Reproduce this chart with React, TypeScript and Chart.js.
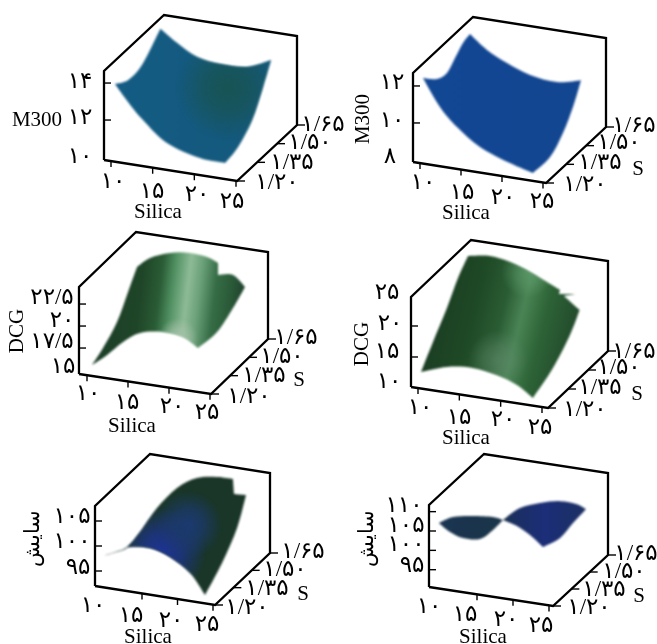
import React, { useEffect, useRef } from "react";
import { Chart, registerables } from "chart.js";

Chart.register(...registerables);

const W = 657;
const H = 644;

const silicaTicks = [10, 15, 20, 25];
const sTicks = [1.2, 1.35, 1.5, 1.65];

// Surface outlines: silica, S, response
const m300ASilica = [10, 10, 10, 10, 10, 12.04, 14.44, 17.17, 20.4, 23.3, 23.2, 23.2, 23.2, 23.2, 20.2, 16.24, 13.36, 11.56];
const m300AS = [1.23, 1.327, 1.417, 1.4925, 1.57, 1.57, 1.57, 1.57, 1.57, 1.57, 1.515, 1.4325, 1.327, 1.23, 1.23, 1.23, 1.23, 1.23];
const m300AZ = [13.81, 13.36, 13.41, 13.88, 14.51, 13.88, 13.29, 13.11, 13.18, 13.76, 12.67, 11.43, 10.68, 10.48, 10.53, 11.06, 12.1, 12.95];

const m300BSilica = [10, 10, 10, 10, 10, 10, 12.07, 14.51, 17.32, 20.6, 23.54, 23.4, 23.4, 23.4, 23.4, 20.6, 16.95, 14.15, 12.07];
const m300BS = [1.2225, 1.327, 1.4025, 1.4625, 1.5225, 1.575, 1.575, 1.575, 1.575, 1.575, 1.575, 1.523, 1.448, 1.351, 1.2225, 1.2225, 1.2225, 1.2225, 1.2225];
const m300BZ = [12.34, 11.58, 11.4, 11.8, 12.21, 12.34, 11.63, 11.09, 10.64, 10.49, 10.8, 9.69, 8.79, 8.14, 8.14, 8.48, 9.1, 9.98, 10.92];

const dcgASilica = [10, 10, 10, 10, 10, 11.59, 14.02, 16.46, 18.54, 19.88, 19.88, 21.71, 23.17, 23, 23, 23, 21.1, 18.66, 15.85, 13.78, 11.83];
const dcgAS = [1.24, 1.326, 1.437, 1.524, 1.595, 1.595, 1.595, 1.595, 1.595, 1.595, 1.595, 1.595, 1.595, 1.511, 1.385, 1.235, 1.24, 1.24, 1.24, 1.24, 1.24];
const dcgAZ = [15.16, 15.88, 17.31, 19.52, 21.37, 22.62, 23.53, 23.87, 23.71, 23.22, 21.86, 22.11, 20.95, 19.7, 18.72, 18.98, 19.91, 20.13, 19.63, 18.31, 16.56];

const dcgBSilica = [10, 10, 10, 10, 10, 12.66, 15.08, 17.5, 19.55, 21.13, 21, 22.94, 21.6, 23.5, 23.3, 23.3, 23.3, 21.6, 19.19, 16.29, 13.14];
const dcgBS = [1.2225, 1.3125, 1.417, 1.5, 1.575, 1.575, 1.575, 1.575, 1.575, 1.575, 1.575, 1.575, 1.575, 1.575, 1.515, 1.3875, 1.2375, 1.2225, 1.2225, 1.2225, 1.2225];
const dcgBZ = [12.31, 15.31, 18.64, 21.79, 23.81, 24.35, 23.87, 22.76, 21.56, 20.6, 19.92, 20.32, 19.72, 17.85, 15.01, 12.29, 10.53, 12.58, 13.69, 14.24, 13.76];

const wearASilica = [9.5, 10, 10, 10, 10, 12.82, 15.63, 18.45, 20.7, 20.85, 22.54, 22.5, 22.5, 22.5, 20.39, 17.58, 14.76, 11.94, 10.96];
const wearAS = [1.2, 1.27, 1.368, 1.474, 1.613, 1.613, 1.613, 1.613, 1.613, 1.613, 1.613, 1.542, 1.419, 1.28, 1.28, 1.28, 1.28, 1.28, 1.28];
const wearAZ = [98.24, 97.54, 96.28, 96.82, 98.42, 103.06, 105.68, 106.52, 106.62, 103.66, 103.82, 98.86, 94.7, 91.52, 95.44, 98.02, 99.18, 98.76, 97.94];

const wearBSilica = [9.7, 10, 10, 10, 11.39, 13.75, 16.53, 19.31, 21.67, 22.92, 22.9, 22.9, 22.9, 21.1, 19.29, 17.35, 15.96, 14.15, 11.79, 10];
const wearBS = [1.2, 1.298, 1.462, 1.625, 1.625, 1.625, 1.625, 1.625, 1.625, 1.625, 1.52, 1.414, 1.274, 1.274, 1.274, 1.274, 1.274, 1.274, 1.274, 1.274];
const wearBZ = [107.45, 106.21, 101.67, 96.63, 96.24, 100.01, 102.11, 103.4, 103.29, 102.36, 101.82, 101.07, 102.83, 105.41, 107.22, 108.23, 105.26, 102.42, 102, 103.04];

const zTicksM300A = [14, 12, 10];
const zTicksM300B = [12, 10, 8];
const zTicksDcgA = [22.5, 20, 17.5, 15];
const zTicksDcgB = [25, 20, 15, 10];
const zTicksWearA = [105, 100, 95];
const zTicksWearB = [110, 105, 100, 95];

type Pt = [number, number];
interface Panel {
  silica: number[]; s: number[]; z: number[]; corners: number[];
  A: Pt; B: Pt; C: Pt; h: number; x10: number; x25: number; zBase: number; zScale: number;
  zTicks: number[]; zMarks: number[]; silicaMarks: number[];
  zLabelPos: Pt[]; silicaLabelPos: Pt[]; sLabelPos: Pt[];
  title: string; titlePos: Pt; titleRot: boolean; silicaPos: Pt; sPos?: Pt;
  stops: [number, string][]; tilt: number;
  blobs: { c: Pt; r: number; color: string; a: number }[];
}

const panels: Panel[] = [
  {
    silica: m300ASilica, s: m300AS, z: m300AZ, corners: [0, 4, 9, 13],
    A: [104, 160], B: [237, 181], C: [297, 125], h: 89, x10: 111, x25: 236, zBase: 9.84, zScale: 18.5,
    zTicks: zTicksM300A, zMarks: [14, 12], silicaMarks: silicaTicks,
    zLabelPos: [[80, 82], [80, 118], [80, 157]],
    silicaLabelPos: [[113, 182], [152, 192], [197, 195], [232, 202]],
    sLabelPos: [[277, 183], [292, 163], [310, 143], [323, 125]],
    title: "M300", titlePos: [37, 120], titleRot: false, silicaPos: [158, 212],
    stops: [[0, "#145c84"], [0.5, "#145a80"], [1, "#14597c"]], tilt: 0,
    blobs: [{ c: [228, 88], r: 52, color: "24,84,84", a: 1 }],
  },
  {
    silica: m300BSilica, s: m300BS, z: m300BZ, corners: [0, 5, 10, 14],
    A: [413, 162], B: [546, 183], C: [606, 127], h: 89, x10: 420, x25: 543, zBase: 7.89, zScale: 18.5,
    zTicks: zTicksM300B, zMarks: [12, 10], silicaMarks: silicaTicks,
    zLabelPos: [[392, 83], [392, 121], [390, 157]],
    silicaLabelPos: [[423, 183], [462, 193], [503, 198], [542, 202]],
    sLabelPos: [[585, 185], [600, 163], [619, 143], [634, 126]],
    title: "M300", titlePos: [363, 119], titleRot: true, silicaPos: [466, 213], sPos: [638, 169],
    stops: [[0, "#124794"], [1, "#134690"]], tilt: 0, blobs: [],
  },
  {
    silica: dcgASilica, s: dcgAS, z: dcgAZ, corners: [0, 4, 9, 10, 12, 15],
    A: [79, 374], B: [211, 394], C: [268, 339], h: 87, x10: 87, x25: 210, zBase: 14.55, zScale: 8.8,
    zTicks: zTicksDcgA, zMarks: [22.5, 20, 17.5], silicaMarks: silicaTicks,
    zLabelPos: [[52, 298], [62, 321], [52, 342], [63, 367]],
    silicaLabelPos: [[88, 394], [127, 403], [172, 407], [207, 413]],
    sLabelPos: [[249, 397], [264, 376], [282, 357], [296, 338]],
    title: "DCG", titlePos: [17, 331], titleRot: true, silicaPos: [132, 426], sPos: [299, 380],
    stops: [[0, "#1c3d28"], [0.3, "#1f4528"], [0.42, "#2a5c35"], [0.5, "#4f8f60"], [0.6, "#8dbb96"], [0.68, "#6aa078"], [0.78, "#356c45"], [0.88, "#2a5a38"], [1, "#1d392c"]],
    tilt: 0.12, blobs: [{ c: [178, 338], r: 20, color: "172,196,174", a: 0.8 }],
  },
  {
    silica: dcgBSilica, s: dcgBS, z: dcgBZ, corners: [0, 4, 9, 10, 11, 12, 13, 16],
    A: [411, 387], B: [548, 408], C: [608, 351], h: 90, x10: 418, x25: 542, zBase: 10.16, zScale: 6.2,
    zTicks: zTicksDcgB, zMarks: [20, 15], silicaMarks: silicaTicks,
    zLabelPos: [[387, 293], [390, 324], [387, 352], [389, 382]],
    silicaLabelPos: [[420, 408], [459, 418], [503, 420], [540, 428]],
    sLabelPos: [[585, 410], [600, 388], [619, 368], [634, 352]],
    title: "DCG", titlePos: [362, 344], titleRot: true, silicaPos: [466, 438], sPos: [637, 394],
    stops: [[0, "#1a3a22"], [0.3, "#1f4a26"], [0.46, "#2a5c33"], [0.58, "#4a8455"], [0.72, "#2d6336"], [1, "#1e4028"]],
    tilt: 0.25,
    blobs: [{ c: [527, 272], r: 26, color: "104,168,118", a: 0.55 }, { c: [498, 360], r: 30, color: "100,142,112", a: 0.55 }],
  },
  {
    silica: wearASilica, s: wearAS, z: wearAZ, corners: [0, 8, 9, 10, 13],
    A: [95, 586], B: [215, 605], C: [270, 553], h: 80, x10: 106.5, x25: 213, zBase: 92, zScale: 5,
    zTicks: zTicksWearA, zMarks: [105, 100, 95], silicaMarks: [15, 20, 25],
    zLabelPos: [[72, 517], [72, 542], [78, 568]],
    silicaLabelPos: [[93, 606], [131, 616], [171, 621], [207, 625]],
    sLabelPos: [[247, 608], [267, 589], [285, 570], [303, 552]],
    title: "سایش", titlePos: [33, 538], titleRot: true, silicaPos: [148, 637], sPos: [303, 594],
    stops: [[0, "#1a3628"], [1, "#1a3628"]], tilt: 0,
    blobs: [{ c: [162, 552], r: 44, color: "30,52,150", a: 1 }, { c: [188, 525], r: 34, color: "28,58,112", a: 1 }],
  },
  {
    silica: wearBSilica, s: wearBS, z: wearBZ, corners: [0, 4, 9, 12, 15],
    A: [429, 587], B: [553, 606], C: [608, 555], h: 82, x10: 441, x25: 549, zBase: 90.53, zScale: 3.87,
    zTicks: zTicksWearB, zMarks: [110, 105, 100, 95], silicaMarks: [15, 20, 25],
    zLabelPos: [[404, 506], [406, 526], [406, 545], [412, 566]],
    silicaLabelPos: [[429, 607], [465, 615], [506, 620], [541, 626]],
    sLabelPos: [[589, 608], [604, 590], [624, 572], [636, 554]],
    title: "سایش", titlePos: [367, 538], titleRot: true, silicaPos: [483, 637], sPos: [639, 596],
    stops: [[0, "#1a3552"], [0.42, "#1a3448"], [0.52, "#1b2f62"], [0.72, "#1b2e78"], [1, "#1c3062"]], tilt: 0, blobs: [],
  },
];

const LATIN = '21px "Liberation Serif", serif';
const DIGIT = '23px "Liberation Serif", "DejaVu Sans", serif';

const persian = (t: string) => t.replace(/[0-9]/g, (d) => "۰۱۲۳۴۵۶۷۸۹"[Number(d)]).replace(".", "/");

function uv(p: Panel, si: number, S: number): Pt {
  const u10 = (p.x10 - p.A[0]) / (p.B[0] - p.A[0]);
  const u25 = (p.x25 - p.A[0]) / (p.B[0] - p.A[0]);
  return [u10 + ((si - 10) / 15) * (u25 - u10), (S - 1.2) / 0.45];
}
function floorAt(p: Panel, U: number, V: number): Pt {
  return [
    p.A[0] + U * (p.B[0] - p.A[0]) + V * (p.C[0] - p.B[0]),
    p.A[1] + U * (p.B[1] - p.A[1]) + V * (p.C[1] - p.B[1]),
  ];
}
function project(p: Panel, si: number, S: number, z: number) {
  const [U, V] = uv(p, si, S);
  const [x, y] = floorAt(p, U, V);
  return { x, y: y - (z - p.zBase) * p.zScale };
}

function buildDatasets() {
  const ds: any[] = [];
  panels.forEach((p, idx) => {
    ds.push({
      surface: idx,
      data: p.silica.map((si, i) => project(p, si, p.s[i], p.z[i])),
      showLine: false, pointRadius: 0,
    });
    const frame = [
      floorAt(p, 0, 0), floorAt(p, 1, 0), floorAt(p, 1, 1),
      [floorAt(p, 1, 1)[0], floorAt(p, 1, 1)[1] - p.h],
      [floorAt(p, 0, 1)[0], floorAt(p, 0, 1)[1] - p.h],
      [p.A[0], p.A[1] - p.h], floorAt(p, 0, 0),
    ].map(([x, y]) => ({ x, y }));
    ds.push({ data: frame, showLine: true, pointRadius: 0, borderColor: "#000", borderWidth: 2.3, borderJoinStyle: "miter" });
    const tick = (a: Pt, b: Pt) =>
      ds.push({ data: [{ x: a[0], y: a[1] }, { x: b[0], y: b[1] }], showLine: true, pointRadius: 0, borderColor: "#000", borderWidth: 1.4 });
    p.silicaMarks.forEach((si) => {
      const [U] = uv(p, si, 1.2);
      const [x, y] = floorAt(p, U, 0);
      tick([x, y], [x, y + 6]);
    });
    sTicks.forEach((S) => {
      const [x, y] = floorAt(p, 1, (S - 1.2) / 0.45);
      tick([x, y], [x + 8, y]);
    });
    p.zMarks.forEach((z) => {
      const y = p.A[1] - (z - p.zBase) * p.zScale;
      tick([p.A[0], y], [p.A[0] + 7, y]);
    });
  });
  return ds;
}

// Catmull-Rom through the outline, kept sharp at the surface's corners
function outline(pts: { x: number; y: number }[], corners: number[]) {
  const path = new Path2D();
  const n = pts.length;
  path.moveTo(pts[0].x, pts[0].y);
  for (let c = 0; c < corners.length; c++) {
    const a = corners[c];
    const b = c + 1 < corners.length ? corners[c + 1] : n;
    for (let i = a; i < b; i++) {
      const p1 = pts[i];
      const p2 = pts[(i + 1) % n];
      const p0 = i === a ? p1 : pts[i - 1];
      const p3 = i + 1 === b ? p2 : pts[(i + 2) % n];
      path.bezierCurveTo(
        p1.x + (p2.x - p0.x) / 6, p1.y + (p2.y - p0.y) / 6,
        p2.x - (p3.x - p1.x) / 6, p2.y - (p3.y - p1.y) / 6,
        p2.x, p2.y
      );
    }
  }
  path.closePath();
  return path;
}

const surfacePlugin = {
  id: "surfacePlugin",
  beforeDatasetsDraw(chart: any) {
    const ctx = chart.ctx as CanvasRenderingContext2D;
    chart.data.datasets.forEach((d: any, i: number) => {
      if (d.surface === undefined) return;
      const p = panels[d.surface];
      const pts = chart.getDatasetMeta(i).data as any[];
      const xs = pts.map((e) => e.x);
      const ys = pts.map((e) => e.y);
      const x0 = Math.min(...xs), x1 = Math.max(...xs);
      const cy = (Math.min(...ys) + Math.max(...ys)) / 2;
      const path = outline(pts, p.corners);
      ctx.save();
      ctx.filter = "blur(0.9px)";
      const g = ctx.createLinearGradient(x0, cy, x1, cy + (x1 - x0) * p.tilt);
      p.stops.forEach(([o, c]) => g.addColorStop(o, c));
      ctx.fillStyle = g;
      ctx.fill(path, "nonzero");
      p.blobs.forEach((b) => {
        const r = ctx.createRadialGradient(b.c[0], b.c[1], 0, b.c[0], b.c[1], b.r);
        r.addColorStop(0, `rgba(${b.color},${b.a})`);
        r.addColorStop(0.45, `rgba(${b.color},${b.a * 0.7})`);
        r.addColorStop(1, `rgba(${b.color},0)`);
        ctx.fillStyle = r;
        ctx.fill(path, "nonzero");
      });
      ctx.restore();
    });
  },
};

const labelPlugin = {
  id: "labelPlugin",
  afterDatasetsDraw(chart: any) {
    const ctx = chart.ctx as CanvasRenderingContext2D;
    const sx = chart.scales.x, sy = chart.scales.y;
    const put = (text: string, pos: Pt, font: string, rot = false) => {
      ctx.save();
      ctx.translate(sx.getPixelForValue(pos[0]), sy.getPixelForValue(pos[1]));
      if (rot) ctx.rotate(-Math.PI / 2);
      ctx.font = font;
      ctx.fillStyle = "#000";
      ctx.textAlign = "center";
      ctx.textBaseline = "middle";
      ctx.fillText(text, 0, 0);
      ctx.restore();
    };
    ctx.save();
    ctx.direction = "ltr";
    panels.forEach((p) => {
      p.zTicks.forEach((z, i) => put(persian(String(z)), p.zLabelPos[i], DIGIT));
      silicaTicks.forEach((v, i) => put(persian(String(v)), p.silicaLabelPos[i], DIGIT));
      sTicks.forEach((v, i) => put(persian(v.toFixed(2)), p.sLabelPos[i], DIGIT));
      put(p.title, p.titlePos, LATIN, p.titleRot);
      put("Silica", p.silicaPos, LATIN);
      if (p.sPos) put("S", p.sPos, LATIN);
    });
    ctx.restore();
  },
};

export default function App() {
  const ref = useRef<HTMLCanvasElement>(null);
  useEffect(() => {
    const chart = new Chart(ref.current!, {
      type: "scatter",
      data: { datasets: buildDatasets() },
      options: {
        responsive: false,
        animation: false,
        devicePixelRatio: 1,
        layout: { padding: 0 },
        elements: { line: { tension: 0 } },
        scales: {
          x: { type: "linear", min: 0, max: W, display: false },
          y: { type: "linear", min: 0, max: H, reverse: true, display: false },
        },
        plugins: { legend: { display: false }, tooltip: { enabled: false } },
      },
      plugins: [surfacePlugin, labelPlugin],
    } as any);
    return () => chart.destroy();
  }, []);
  return (
    <div style={{ position: "fixed", left: 0, top: 0, width: W, height: H, background: "#fff" }}>
      <canvas ref={ref} width={W} height={H} style={{ display: "block" }} />
    </div>
  );
}
